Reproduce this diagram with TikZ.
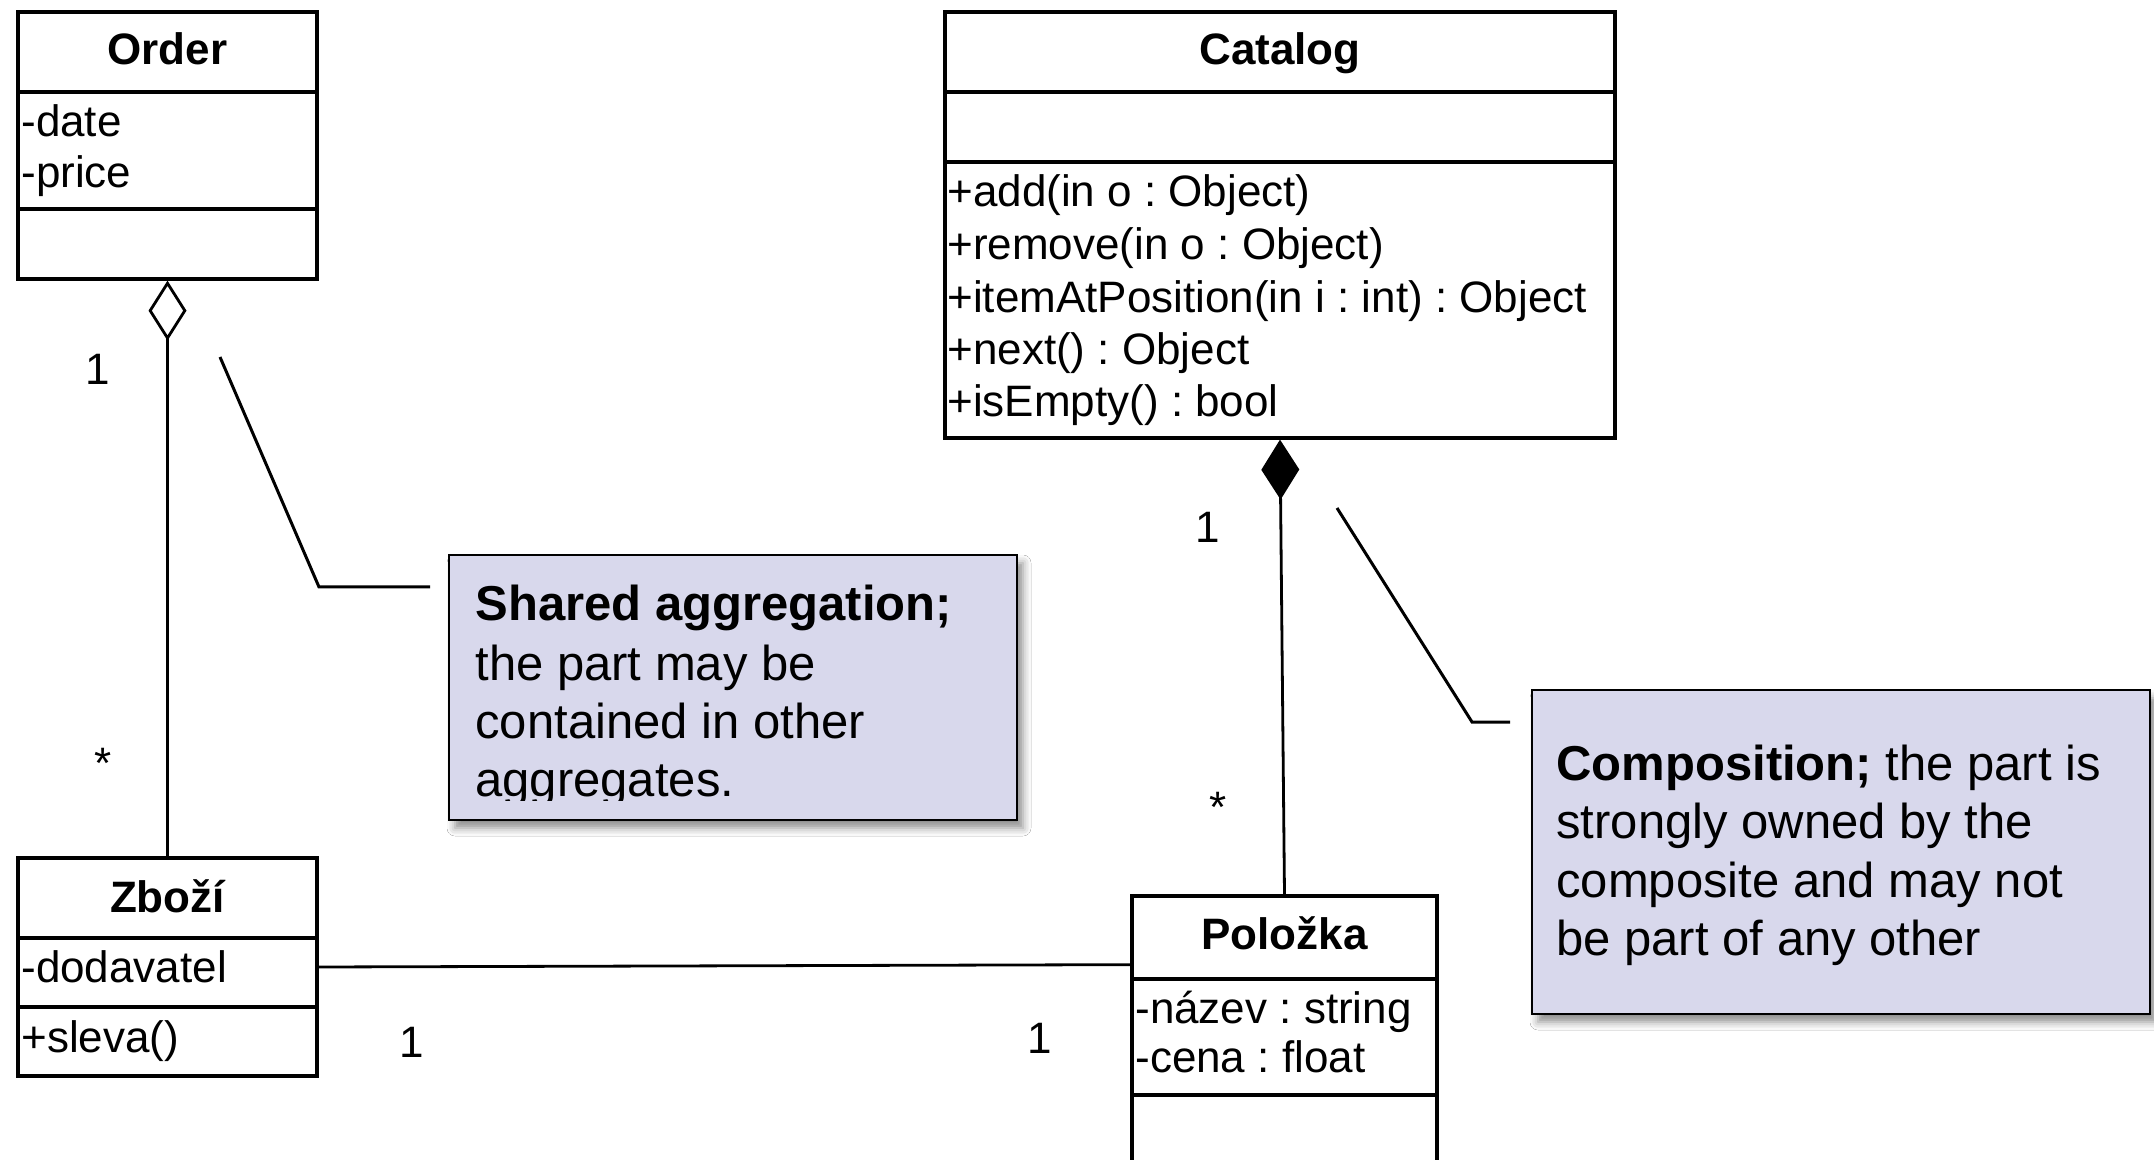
\documentclass[tikz,border=0pt]{standalone}
\usepackage{fontspec}
\setmainfont{Liberation Sans}
\usetikzlibrary{arrows.meta,fit,shadows.blur}
\definecolor{notefill}{RGB}{216,216,236}
\frenchspacing
\begin{document}
\begin{tikzpicture}[x=0.5pt,y=-0.5pt,
  cell/.style={draw, line width=1.65pt, inner sep=0pt, minimum size=0pt},
  ctitle/.style={font=\bfseries\fontsize{22}{26}\selectfont, anchor=base, inner sep=0pt},
  ctext/.style={font=\fontsize{22}{26}\selectfont, anchor=base west, inner sep=0pt},
  mult/.style={font=\fontsize{22}{26}\selectfont, anchor=base, inner sep=0pt},
  note/.style={draw, line width=1.4pt, fill=notefill, inner sep=0pt, minimum size=0pt,
    blur shadow={shadow xshift=3pt, shadow yshift=-4pt, shadow blur radius=4pt, shadow opacity=45}},
  ntext/.style={font=\fontsize{24.5}{29}\selectfont, anchor=base west, inner sep=0pt},
  link/.style={line width=1.4pt},
  leader/.style={line width=1.5pt}
]
\useasboundingbox (0,0) rectangle (2154,1160);
\fill[white] (0,0) rectangle (2154,1160);
\clip (0,0) rectangle (2154,1160);

% class Order
\node[cell, fit={(18,12)(317,92)}] (order-name) {};
\node[cell, fit={(18,92)(317,209)}] (order-attr) {};
\node[cell, fit={(18,209)(317,279)}] (order-ops) {};
\node[ctitle] (order-title) at (167.5,65) {Order};
\node[ctext] (order-a1) at (21,137) {-date};
\node[ctext] (order-a2) at (21,188) {-price};

% class Catalog
\node[cell, fit={(945,12)(1615,92)}] (cat-name) {};
\node[cell, fit={(945,92)(1615,162)}] (cat-attr) {};
\node[cell, fit={(945,162)(1615,438)}] (cat-ops) {};
\node[ctitle] (cat-title) at (1280,65) {Catalog};
\node[ctext] (cat-m1) at (947,207) {+add(in o : Object)};
\node[ctext] (cat-m2) at (947,260) {+remove(in o : Object)};
\node[ctext] (cat-m3) at (947,313) {+itemAtPosition(in i : int) : Object};
\node[ctext] (cat-m4) at (947,365) {+next() : Object};
\node[ctext] (cat-m5) at (947,417) {+isEmpty() : bool};

% class Zboží
\node[cell, fit={(18,858)(317,938)}] (zbozi-name) {};
\node[cell, fit={(18,938)(317,1007)}] (zbozi-attr) {};
\node[cell, fit={(18,1007)(317,1076)}] (zbozi-ops) {};
\node[ctitle] (zbozi-title) at (167.5,912) {Zboží};
\node[ctext] (zbozi-a1) at (21,982) {-dodavatel};
\node[ctext] (zbozi-m1) at (21,1052) {+sleva()};

% class Položka
\node[cell, fit={(1132,896)(1437,979)}] (pol-name) {};
\node[cell, fit={(1132,979)(1437,1095)}] (pol-attr) {};
\node[cell, fit={(1132,1095)(1437,1200)}] (pol-ops) {};
\node[ctitle] (pol-title) at (1284.5,949) {Položka};
\node[ctext] (pol-a1) at (1135,1023) {-název : string};
\node[ctext] (pol-a2) at (1135,1072) {-cena : float};

% relations
\draw[link, {Diamond[open,length=30pt,width=19pt]}-] (order-ops.south) -- (zbozi-name.north);
\draw[link, {Diamond[length=30pt,width=19pt]}-] (cat-ops.south) -- (pol-name.north);
\draw[link] ([yshift=2.75pt]zbozi-attr.east) -- ([yshift=8pt]pol-name.south west);

% multiplicities
\node[mult] (m-order) at (98,385) {1};
\node[mult] (m-zbozi) at (103,778) {*};
\node[mult] (m-cat) at (1208,543) {1};
\node[mult] (m-pol) at (1218,822) {*};
\node[mult] (m-zbozi-r) at (412,1057) {1};
\node[mult] (m-pol-l) at (1040,1053) {1};

% note on shared aggregation
\node[note, fit={(449,555)(1017,820)}] (note-shared) {};
\begin{scope}
  \clip (449,555) rectangle (1017,800);
  \node[ntext] (ns1) at (475,621) {\bfseries Shared aggregation;};
  \node[ntext] (ns2) at (475,680) {the part may be};
  \node[ntext] (ns3) at (475,738) {contained in other};
  \node[ntext] (ns4) at (475,796) {aggregates.};
\end{scope}
\coordinate (la1) at (220,357);
\coordinate (la2) at (319,587);
\coordinate (la3) at (430,587);
\draw[leader] (la1) -- (la2) -- (la3);

% note on composition
\node[note, fit={(1532,690)(2150,1014)}] (note-comp) {};
\node[ntext] (nc1) at (1556,780) {\textbf{Composition;} the part is};
\node[ntext] (nc2) at (1556,838) {strongly owned by the};
\node[ntext] (nc3) at (1556,897) {composite and may not};
\node[ntext] (nc4) at (1556,955) {be part of any other};
\coordinate (lc1) at (1337,508);
\coordinate (lc2) at (1472,722);
\coordinate (lc3) at (1510,722);
\draw[leader] (lc1) -- (lc2) -- (lc3);
\end{tikzpicture}
\end{document}
